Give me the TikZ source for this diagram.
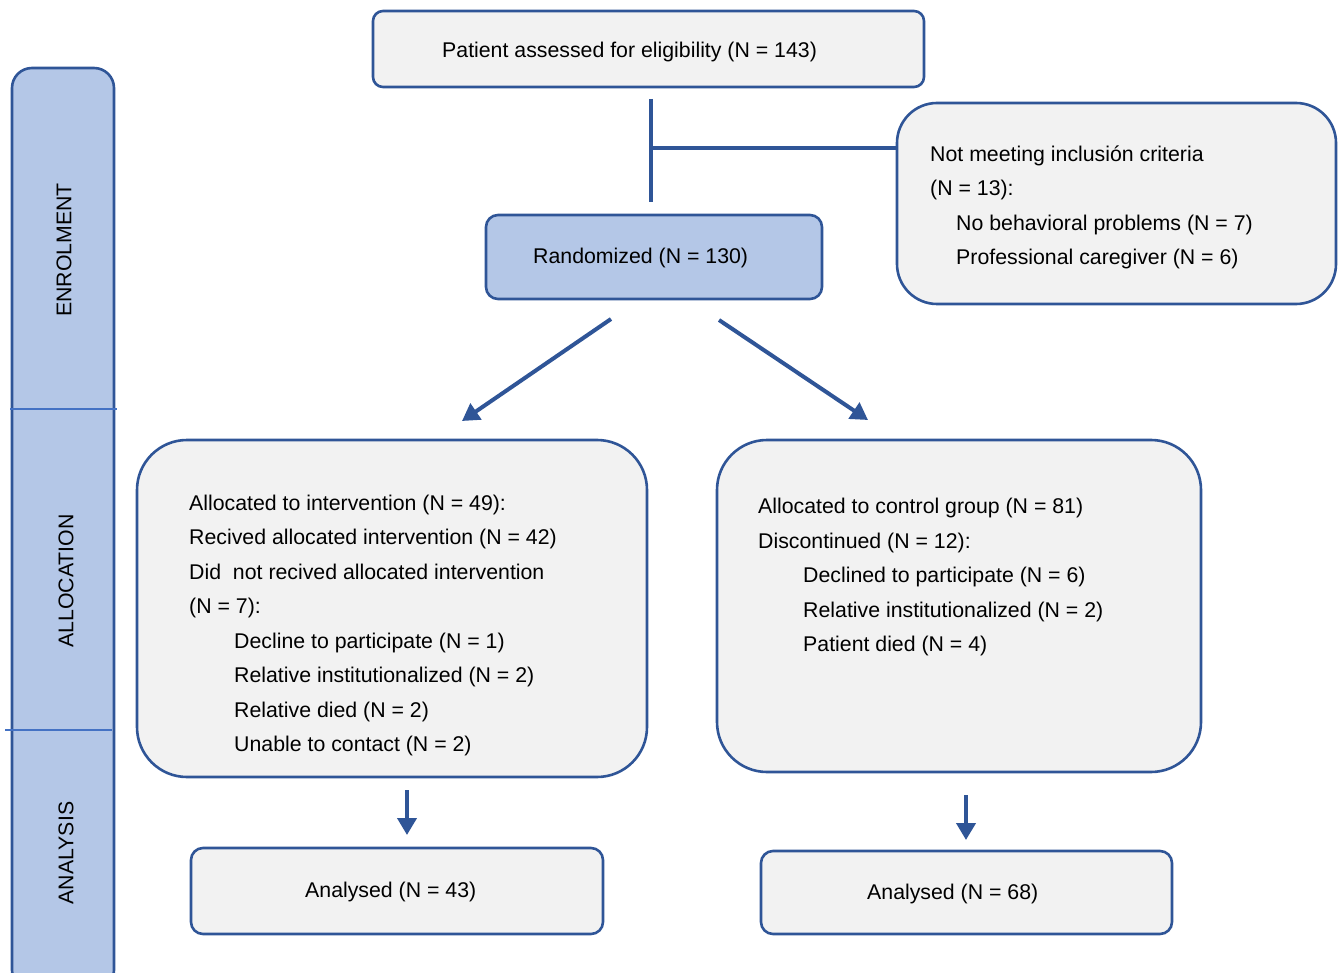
\documentclass[tikz,border=0pt]{standalone}
\usepackage{fontspec}
\setmainfont{Liberation Sans}
\usetikzlibrary{arrows.meta}
\definecolor{bord}{RGB}{47,85,151}
\definecolor{gfill}{RGB}{242,242,242}
\definecolor{bfill}{RGB}{180,199,231}
\definecolor{divc}{RGB}{68,114,196}
\tikzset{
  box/.style={draw=bord, line width=2.6pt, fill=gfill},
  bluebox/.style={draw=bord, line width=2.6pt, fill=bfill},
  txt/.style={anchor=base west, inner sep=0pt, font=\fontsize{21.3}{25}\selectfont},
  vtxt/.style={rotate=90, inner sep=0pt, font=\fontsize{21.3}{25}\selectfont},
  link/.style={draw=bord, line width=3.6pt},
  arr/.style={draw=bord, line width=4pt, -{Triangle[width=19pt,length=17pt]}},
}
\begin{document}
\begin{tikzpicture}[x=1pt,y=-1pt]
\useasboundingbox (0,0) rectangle (1338,973);
% side bar
\draw[bluebox, rounded corners=20pt] (12,68) rectangle (114,990);
\draw[divc, line width=2.2pt] (10,409) -- (117,409);
\draw[divc, line width=2.2pt] (5,730) -- (112,730);
\node[vtxt] (enr) at (64,250) {ENROLMENT};
\node[vtxt] (alc) at (66,581) {ALLOCATION};
\node[vtxt] (ana) at (66,853) {ANALYSIS};
% boxes
\draw[box, rounded corners=10pt] (373,11) rectangle (924,87);
\node[txt] (t1) at (442,58) {Patient assessed for eligibility (N = 143)};
\draw[box, rounded corners=40pt] (897,103) rectangle (1336,304);
\node[txt] (n1) at (930,162) {Not meeting inclusión criteria};
\node[txt] (n2) at (930,196) {(N = 13):};
\node[txt] (n3) at (956,231) {No behavioral problems (N = 7)};
\node[txt] (n4) at (956,265) {Professional caregiver (N = 6)};
\draw[bluebox, rounded corners=12pt] (486,215) rectangle (822,299);
\node[txt] (r1) at (533,264) {Randomized (N = 130)};
% connector lines
\coordinate (v1) at (651,99);
\coordinate (v2) at (651,202);
\coordinate (vh) at (651,148);
\coordinate (h2) at (897,148);
\draw[link] (v1) -- (v2);
\draw[link] (vh) -- (h2);
\coordinate (a1s) at (611,319);
\coordinate (a1e) at (462,421);
\coordinate (a2s) at (719,320);
\coordinate (a2e) at (868,420);
\draw[arr] (a1s) -- (a1e);
\draw[arr] (a2s) -- (a2e);
% allocation boxes
\draw[box, rounded corners=50pt] (137,440) rectangle (647,777);
\node[txt] (l1) at (189,510) {Allocated to intervention (N = 49):};
\node[txt] (l2) at (189,544) {Recived allocated intervention (N = 42)};
\node[txt] (l3) at (189,579) {Did\ \ not recived allocated intervention};
\node[txt] (l4) at (189,613) {(N = 7):};
\node[txt] (l5) at (234,648) {Decline to participate (N = 1)};
\node[txt] (l6) at (234,682) {Relative institutionalized (N = 2)};
\node[txt] (l7) at (234,717) {Relative died (N = 2)};
\node[txt] (l8) at (234,751) {Unable to contact (N = 2)};
\draw[box, rounded corners=50pt] (717,440) rectangle (1201,772);
\node[txt] (c1) at (758,513) {Allocated to control group (N = 81)};
\node[txt] (c2) at (758,548) {Discontinued (N = 12):};
\node[txt] (c3) at (803,582) {Declined to participate (N = 6)};
\node[txt] (c4) at (803,617) {Relative institutionalized (N = 2)};
\node[txt] (c5) at (803,651) {Patient died (N = 4)};
% down arrows
\coordinate (d1s) at (407,790);
\coordinate (d1e) at (407,835);
\coordinate (d2s) at (966,795);
\coordinate (d2e) at (966,840);
\draw[arr] (d1s) -- (d1e);
\draw[arr] (d2s) -- (d2e);
% analysed
\draw[box, rounded corners=12pt] (191,848) rectangle (603,934);
\node[txt] (an1) at (305,897) {Analysed (N = 43)};
\draw[box, rounded corners=12pt] (761,851) rectangle (1172,934);
\node[txt] (an2) at (867,899) {Analysed (N = 68)};
\end{tikzpicture}
\end{document}
